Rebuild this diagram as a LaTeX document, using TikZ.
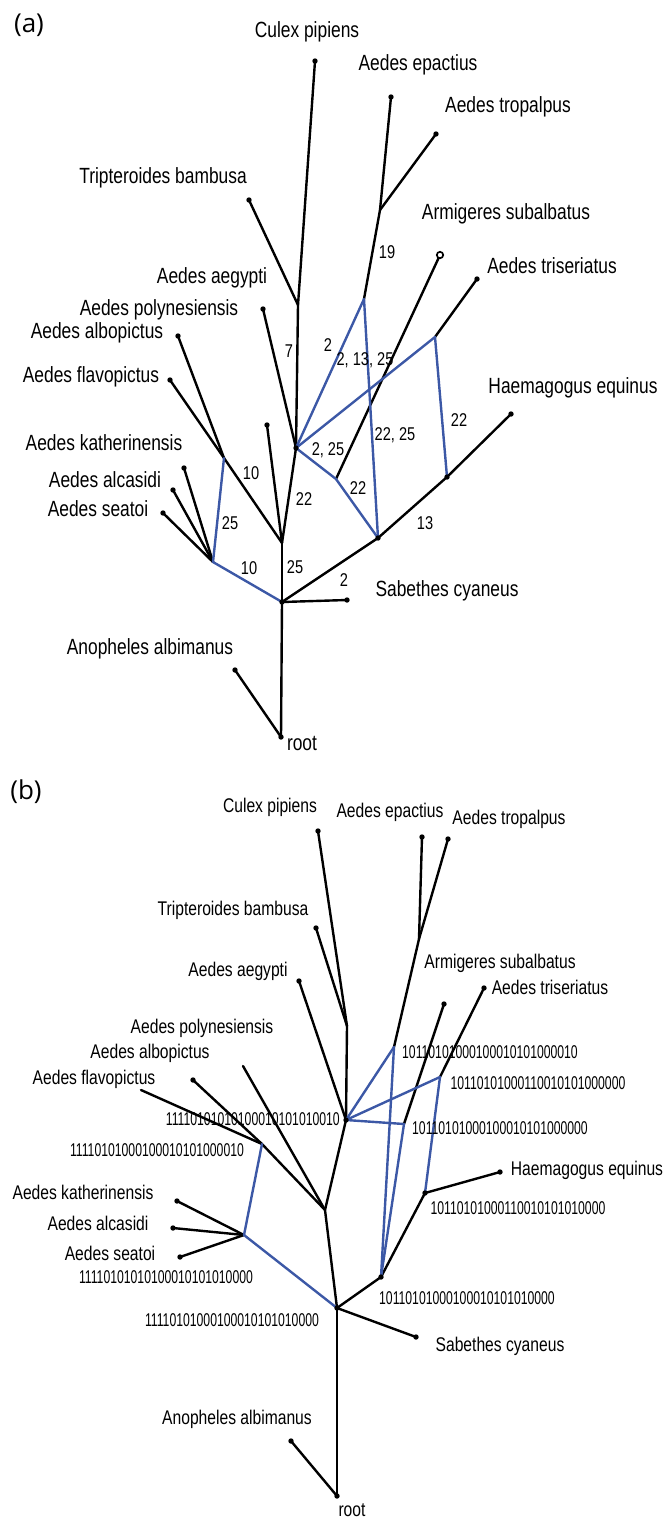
\documentclass[tikz,border=0pt]{standalone}
\usepackage{fontspec}
\setmainfont[FakeStretch=0.79]{Liberation Sans}
\newfontfamily\panelfont{Open Sans}
\newfontfamily\bitsfont[FakeStretch=0.66]{Liberation Sans}
\definecolor{netblue}{RGB}{60,88,166}
\tikzset{
  tree/.style={line width=2.4pt, black, line cap=round},
  net/.style={line width=2.4pt, netblue, line cap=round},
  taxonA/.style={inner sep=0pt, font=\fontsize{22}{24}\selectfont},
  taxonB/.style={inner sep=0pt, font=\fontsize{19.8}{21}\selectfont},
  edgelbl/.style={inner sep=0pt, font=\fontsize{18.5}{20}\selectfont},
  bits/.style={inner sep=0pt, font=\bitsfont\fontsize{18.5}{20}\selectfont},
  panel/.style={inner sep=0pt, font=\panelfont\fontsize{26}{28}\selectfont},
}
\newcommand{\leafdot}[1]{\fill (#1) circle (2.7pt);}
\begin{document}
\begin{tikzpicture}[x=1pt, y=-1pt]
\useasboundingbox (0,0) rectangle (664,1521);

% ---------------- panel (a) ----------------
\node[panel] (pa) at (29,25) {(a)};

\coordinate (aRoot) at (281,737);
\coordinate (aM) at (282,602);
\coordinate (aAnoph) at (235,670);
\coordinate (aSab) at (347,600);
\coordinate (aS) at (378,538);
\coordinate (aH) at (447,477);
\coordinate (aHae) at (511,414);
\coordinate (aT) at (435,337);
\coordinate (aTri) at (477,279);
\coordinate (aL) at (282,543);
\coordinate (aN) at (296,448);
\coordinate (aF) at (224,458);
\coordinate (aU) at (267,425);
\coordinate (aAlbo) at (178,336);
\coordinate (aFlavo) at (170,380);
\coordinate (aK) at (213,562);
\coordinate (aKath) at (184,468);
\coordinate (aAlca) at (173,490);
\coordinate (aSeat) at (163,513);
\coordinate (aJ) at (298,305);
\coordinate (aCulex) at (315,61);
\coordinate (aTrip) at (249,200);
\coordinate (aAeg) at (263,309);
\coordinate (aE) at (364,299);
\coordinate (aEp) at (380,210);
\coordinate (aEpac) at (391,97);
\coordinate (aTrop) at (436,134);
\coordinate (aA) at (336,479);
\coordinate (aArm) at (440,255);

% tree edges
\draw[tree] (aRoot) -- (aM);
\draw[tree] (aRoot) -- (aAnoph);
\draw[tree] (aM) -- (aSab);
\draw[tree] (aM) -- (aS);
\draw[tree] (aS) -- (aH);
\draw[tree] (aH) -- (aHae);
\draw[tree] (aT) -- (aTri);
\draw[tree] (aM) -- (aL);
\draw[tree] (aL) -- (aN);
\draw[tree] (aL) -- (aF);
\draw[tree] (aL) -- (aU);
\draw[tree] (aF) -- (aAlbo);
\draw[tree] (aF) -- (aFlavo);
\draw[tree] (aK) -- (aKath);
\draw[tree] (aK) -- (aAlca);
\draw[tree] (aK) -- (aSeat);
\draw[tree] (aN) -- (aJ);
\draw[tree] (aJ) -- (aCulex);
\draw[tree] (aJ) -- (aTrip);
\draw[tree] (aN) -- (aAeg);
\draw[tree] (aE) -- (aEp);
\draw[tree] (aEp) -- (aEpac);
\draw[tree] (aEp) -- (aTrop);
\draw[tree] (aA) -- (aArm);

% reticulate edges
\draw[net] (aM) -- (aK);
\draw[net] (aK) -- (aF);
\draw[net] (aN) -- (aE);
\draw[net] (aE) -- (aS);
\draw[net] (aN) -- (aT);
\draw[net] (aT) -- (aH);
\draw[net] (aN) -- (aA);
\draw[net] (aA) -- (aS);

% vertices
\foreach \p in {aRoot,aM,aAnoph,aSab,aS,aH,aHae,aTri,aN,aU,aAlbo,aFlavo,aKath,aAlca,aSeat,aCulex,aTrip,aAeg,aEpac,aTrop}
  {\leafdot{\p}}
\draw[line width=1.7pt, fill=white] (aArm) circle (3.2pt);

% character labels
\node[edgelbl] (ea1) at (344,580) {2};
\node[edgelbl] (ea2) at (425,523) {13};
\node[edgelbl] (ea3) at (459,420) {22};
\node[edgelbl] (ea4) at (295,567) {25};
\node[edgelbl] (ea5) at (304,499) {22};
\node[edgelbl] (ea6) at (251,473) {10};
\node[edgelbl] (ea7) at (249,568) {10};
\node[edgelbl] (ea8) at (230,523) {25};
\node[edgelbl] (ea9) at (289,351) {7};
\node[edgelbl] (ea10) at (328,345) {2};
\node[edgelbl] (ea11) at (365,360) {2, 13, 25};
\node[edgelbl] (ea12) at (387,252) {19};
\node[edgelbl] (ea13) at (395,435) {22, 25};
\node[edgelbl] (ea14) at (328,450) {2, 25};
\node[edgelbl] (ea15) at (358,488) {22};

% taxa
\node[taxonA] (ta1) at (307,32) {Culex pipiens};
\node[taxonA] (ta2) at (418,65) {Aedes epactius};
\node[taxonA] (ta3) at (508,107) {Aedes tropalpus};
\node[taxonA] (ta4) at (163,178) {Tripteroides bambusa};
\node[taxonA] (ta5) at (506,214) {Armigeres subalbatus};
\node[taxonA] (ta6) at (552,266) {Aedes triseriatus};
\node[taxonA] (ta7) at (212,278) {Aedes aegypti};
\node[taxonA] (ta8) at (159,310) {Aedes polynesiensis};
\node[taxonA] (ta9) at (97,333) {Aedes albopictus};
\node[taxonA] (ta10) at (91,377) {Aedes flavopictus};
\node[taxonA] (ta11) at (573,388) {Haemagogus equinus};
\node[taxonA] (ta12) at (104,443) {Aedes katherinensis};
\node[taxonA] (ta13) at (105,480) {Aedes alcasidi};
\node[taxonA] (ta14) at (98,509) {Aedes seatoi};
\node[taxonA] (ta15) at (447,591) {Sabethes cyaneus};
\node[taxonA] (ta16) at (150,649) {Anopheles albimanus};
\node[taxonA] (ta17) at (302,743) {root};

% ---------------- panel (b) ----------------
\node[panel] (pb) at (26,792) {(b)};

\coordinate (bRoot) at (337,1496);
\coordinate (bM) at (337,1308);
\coordinate (bAnoph) at (291,1441);
\coordinate (bSab) at (416,1337);
\coordinate (bS) at (381,1277);
\coordinate (bH) at (425,1193);
\coordinate (bHae) at (500,1172);
\coordinate (bT) at (440,1077);
\coordinate (bTri) at (484,988);
\coordinate (bA) at (404,1124);
\coordinate (bArm) at (444,1004);
\coordinate (bE) at (394,1047);
\coordinate (bEp) at (419,939);
\coordinate (bEpac) at (422,837);
\coordinate (bTrop) at (448,839);
\coordinate (bN) at (346,1120);
\coordinate (bJ) at (347,1026);
\coordinate (bCulex) at (318,831);
\coordinate (bTrip) at (316,928);
\coordinate (bAeg) at (299,981);
\coordinate (bL) at (325,1210);
\coordinate (bF) at (262,1144);
\coordinate (bPoly) at (243,1066);
\coordinate (bAlbo) at (193,1080);
\coordinate (bFlavo) at (141,1090);
\coordinate (bK) at (244,1235);
\coordinate (bKath) at (177,1201);
\coordinate (bAlca) at (173,1228);
\coordinate (bSeat) at (180,1257);

\draw[tree] (bRoot) -- (bM);
\draw[tree] (bRoot) -- (bAnoph);
\draw[tree] (bM) -- (bSab);
\draw[tree] (bM) -- (bS);
\draw[tree] (bS) -- (bH);
\draw[tree] (bH) -- (bHae);
\draw[tree] (bT) -- (bTri);
\draw[tree] (bA) -- (bArm);
\draw[tree] (bE) -- (bEp);
\draw[tree] (bEp) -- (bEpac);
\draw[tree] (bEp) -- (bTrop);
\draw[tree] (bN) -- (bJ);
\draw[tree] (bJ) -- (bCulex);
\draw[tree] (bJ) -- (bTrip);
\draw[tree] (bN) -- (bAeg);
\draw[tree] (bN) -- (bL);
\draw[tree] (bL) -- (bM);
\draw[tree] (bL) -- (bF);
\draw[tree] (bL) -- (bPoly);
\draw[tree] (bF) -- (bAlbo);
\draw[tree] (bF) -- (bFlavo);
\draw[tree] (bK) -- (bKath);
\draw[tree] (bK) -- (bAlca);
\draw[tree] (bK) -- (bSeat);

\draw[net] (bM) -- (bK);
\draw[net] (bK) -- (bF);
\draw[net] (bN) -- (bE);
\draw[net] (bE) -- (bS);
\draw[net] (bN) -- (bT);
\draw[net] (bT) -- (bH);
\draw[net] (bN) -- (bA);
\draw[net] (bA) -- (bS);

\foreach \p in {bRoot,bM,bAnoph,bSab,bS,bH,bHae,bTri,bArm,bEpac,bTrop,bN,bCulex,bTrip,bAeg,bAlbo,bKath,bAlca,bSeat}
  {\leafdot{\p}}

% sequences at the vertices
\node[bits, anchor=east] (sb1) at (340,1119) {11110101010100010101010010};
\node[bits] (sb2) at (157,1150) {11110101000100010101000010};
\node[bits] (sb3) at (166,1277) {11110101010100010101010000};
\node[bits] (sb4) at (232,1320) {11110101000100010101010000};
\node[bits] (sb5) at (490,1052) {10110101000100010101000010};
\node[bits] (sb6) at (538,1083) {10110101000110010101000000};
\node[bits] (sb7) at (500,1128) {10110101000100010101000000};
\node[bits] (sb8) at (518,1208) {10110101000110010101010000};
\node[bits] (sb9) at (467,1298) {10110101000100010101010000};

\node[taxonB] (tb1) at (270,807) {Culex pipiens};
\node[taxonB] (tb2) at (233,910) {Tripteroides bambusa};
\node[taxonB] (tb3) at (238,971) {Aedes aegypti};
\node[taxonB] (tb4) at (202,1028) {Aedes polynesiensis};
\node[taxonB] (tb5) at (150,1053) {Aedes albopictus};
\node[taxonB] (tb6) at (94,1079) {Aedes flavopictus};
\node[taxonB] (tb7) at (390,812) {Aedes epactius};
\node[taxonB] (tb8) at (509,819) {Aedes tropalpus};
\node[taxonB] (tb9) at (500,963) {Armigeres subalbatus};
\node[taxonB] (tb10) at (550,987) {Aedes triseriatus};
\node[taxonB] (tb11) at (587,1170) {Haemagogus equinus};
\node[taxonB] (tb12) at (500,1346) {Sabethes cyaneus};
\node[taxonB] (tb13) at (237,1419) {Anopheles albimanus};
\node[taxonB] (tb14) at (352,1510) {root};
\node[taxonB] (tb15) at (83,1192) {Aedes katherinensis};
\node[taxonB] (tb16) at (98,1223) {Aedes alcasidi};
\node[taxonB] (tb17) at (110,1253) {Aedes seatoi};
\end{tikzpicture}
\end{document}
